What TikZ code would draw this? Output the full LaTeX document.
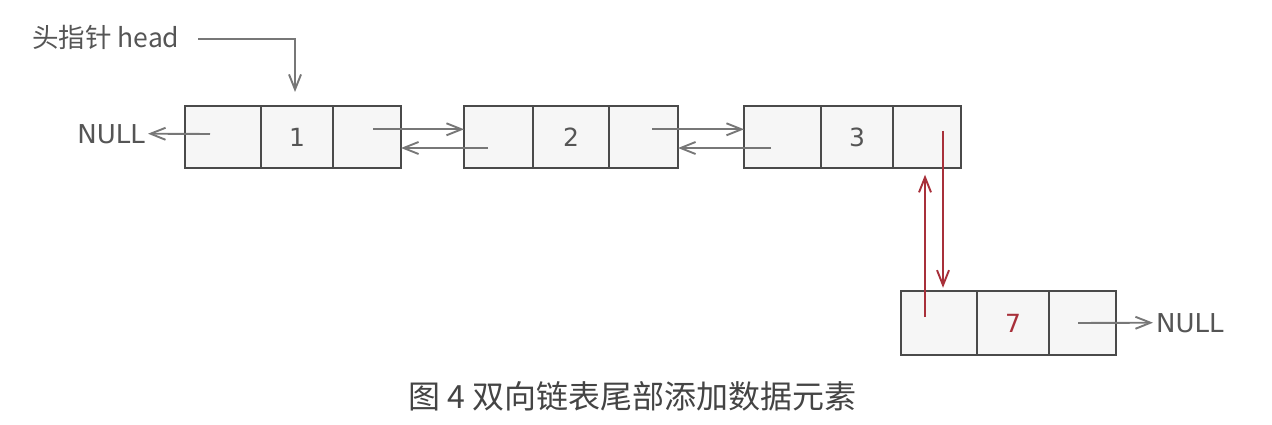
\documentclass[tikz,border=0pt]{standalone}
\usepackage{fontspec}
\setmainfont{DejaVu Sans}
\newfontfamily\cjk{Noto Sans CJK SC}
\usetikzlibrary{arrows.meta,calc}
\definecolor{boxline}{HTML}{4A4A4A}
\definecolor{boxfill}{HTML}{F6F6F6}
\definecolor{ptrgray}{HTML}{777777}
\definecolor{ptrred}{RGB}{168,48,58}
\definecolor{txtgray}{HTML}{555555}
\definecolor{capgray}{HTML}{444444}
\tikzset{
  cell/.style={draw=boxline, fill=boxfill, line width=2.2pt, inner sep=0pt, outer sep=0pt,
    minimum height=62.5pt, font=\fontsize{25}{25}\selectfont, text=txtgray},
  ptr/.style={draw=ptrgray, line width=1.9pt, -{Straight Barb[length=15pt,width=12pt,line width=1.9pt]}},
  rptr/.style={draw=ptrred, line width=1.9pt, -{Straight Barb[length=15pt,width=12pt,line width=1.9pt]}},
  lbl/.style={text=txtgray, inner ysep=0pt, font=\fontsize{26}{26}\selectfont},
}
\begin{document}
\begin{tikzpicture}[x=1pt,y=-1pt]
\useasboundingbox (0,0) rectangle (1272,425);
% box 1
\node[cell, minimum width=76pt] (b1a) at (223,137) {};
\node[cell, minimum width=72pt] (b1b) at (297,137) {1};
\node[cell, minimum width=68pt] (b1c) at (367,137) {};
% box 2
\node[cell, minimum width=69pt] (b2a) at (498.5,137) {};
\node[cell, minimum width=76pt] (b2b) at (571,137) {2};
\node[cell, minimum width=69pt] (b2c) at (643.5,137) {};
% box 3
\node[cell, minimum width=77pt] (b3a) at (782.5,137) {};
\node[cell, minimum width=72pt] (b3b) at (857,137) {3};
\node[cell, minimum width=68pt] (b3c) at (927,137) {};
% box 7
\node[cell, minimum width=76pt, minimum height=63.5pt] (b7a) at (939,323) {};
\node[cell, minimum width=72pt, minimum height=63.5pt, text=ptrred] (b7b) at (1013,323) {7};
\node[cell, minimum width=67pt, minimum height=63.5pt] (b7c) at (1082.5,323) {};
% labels
\node[lbl, anchor=base west, inner xsep=0pt, font=\cjk\fontsize{26.5}{26.5}\selectfont] (head) at (32,48) {头指针 head};
\node[lbl, anchor=base east, inner xsep=3pt] (nullL) at (148,143) {NULL};
\node[lbl, anchor=base west, inner xsep=3pt] (nullR) at (1153,332) {NULL};
\node[anchor=base, inner sep=0pt, text=capgray, font=\cjk\fontsize{32}{32}\selectfont] (cap) at (632.5,408) {图 4 双向链表尾部添加数据元素};
% free ends
\coordinate (hs) at (198,39);
\coordinate (ht) at (295,92);
\coordinate (n0) at (210,134);
\coordinate (s12) at (373,129.3);
\coordinate (s21) at (488,148);
\coordinate (s23) at (652,129.3);
\coordinate (s32) at (771,148);
\coordinate (r1) at (943,131);
\coordinate (r2) at (925,317);
\coordinate (n7) at (1078,323);
% connectors
\draw[ptr] (hs) -| (ht);
\draw[ptr] (n0) -- (nullL.east);
\draw[ptr] (s12) -- (s12 -| b2a.west);
\draw[ptr] (s21) -- (s21 -| b1c.east);
\draw[ptr] (s23) -- (s23 -| b3a.west);
\draw[ptr] (s32) -- (s32 -| b2c.east);
\draw[rptr, shorten >=3.5pt] (r1) -- (r1 |- b7a.north);
\draw[rptr, shorten >=6.5pt] (r2) -- (r2 |- b3c.south);
\draw[ptr] (n7) -- (nullR.west);
\end{tikzpicture}
\end{document}
